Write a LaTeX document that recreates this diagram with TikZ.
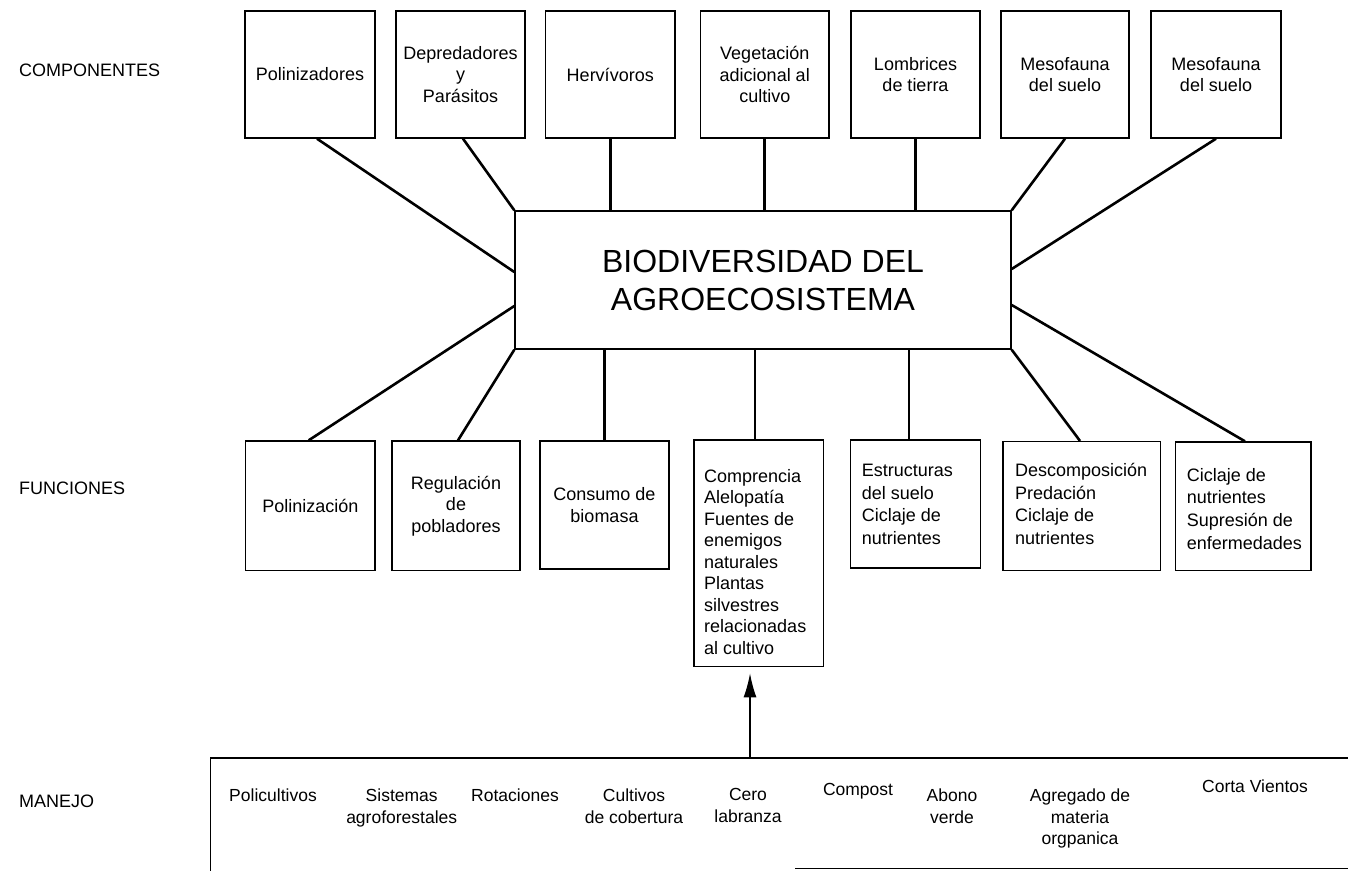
\documentclass[tikz,border=0pt]{standalone}
\usepackage{fontspec}
\setmainfont{Liberation Sans}
\usetikzlibrary{arrows.meta}
\newcommand{\fsBox}{\fontsize{18}{21.5}\selectfont}
\newcommand{\fsMan}{\fontsize{17.5}{21.7}\selectfont}
\newcommand{\fsTitle}{\fontsize{32}{38}\selectfont}
\begin{document}
\begin{tikzpicture}[x=1pt,y=-1pt,
  box/.style={draw, line width=1.4pt, inner sep=0pt, align=center, font=\fsBox},
  txt/.style={inner sep=0pt, align=left, font=\fsBox, anchor=west},
  lab/.style={inner sep=0pt, font=\fsBox, anchor=west},
  man/.style={inner sep=0pt, align=center, font=\fsMan, anchor=north},
  link/.style={line width=2.6pt},
  frame/.style={line width=1.4pt}]
\useasboundingbox (0,0) rectangle (1348,871);

% left labels
\node[lab] (L1) at (19,70.5) {COMPONENTES};
\node[lab] (L2) at (19,488) {FUNCIONES};
\node[lab] (L3) at (19,801.7) {MANEJO};

% central box
\node[box, font=\fsTitle, minimum width=496pt, minimum height=138pt] (C) at (763,280)
  {BIODIVERSIDAD DEL\\AGROECOSISTEMA};

% top boxes
\node[box, minimum width=130pt, minimum height=127pt] (T1) at (310,74.5) {Polinizadores};
\node[box, minimum width=129pt, minimum height=127pt] (T2) at (460.5,74.5) {Depredadores\\y\\Parásitos};
\node[box, minimum width=129.5pt, minimum height=127pt] (T3) at (610.25,74.5) {Hervívoros};
\node[box, minimum width=128.5pt, minimum height=127pt] (T4) at (764.75,74.5) {Vegetación\\adicional al\\cultivo};
\node[box, minimum width=129pt, minimum height=127pt] (T5) at (915.5,74.5) {Lombrices\\de tierra};
\node[box, minimum width=128pt, minimum height=127pt] (T6) at (1065,74.5) {Mesofauna\\del suelo};
\node[box, minimum width=130pt, minimum height=127pt] (T7) at (1216,74.5) {Mesofauna\\del suelo};

% bottom boxes
\node[box, minimum width=129.4pt, minimum height=129.5pt] (B1) at (310.3,505.75) {Polinización};
\node[box, minimum width=128pt, minimum height=129.5pt] (B2) at (456,505.75) {Regulación\\de\\pobladores};
\node[box, minimum width=129pt, minimum height=128pt] (B3) at (604.5,505) {Consumo de\\biomasa};
\node[box, minimum width=129.6pt, minimum height=226.7pt] (B4) at (758.8,553.35) {};
\node[box, minimum width=130pt, minimum height=128pt] (B5) at (915.7,504) {};
\node[box, minimum width=157.7pt, minimum height=129pt] (B6) at (1081.85,506.2) {};
\node[box, minimum width=135.3pt, minimum height=128.7pt] (B7) at (1243.35,506.35) {};

\node[txt] (B4t) at (704,562) {Comprencia\\Alelopatía\\Fuentes de\\enemigos\\naturales\\Plantas\\silvestres\\relacionadas\\al cultivo};
\node[txt, font=\fontsize{18}{22.6}\selectfont] (B5t) at (861.7,504.4) {Estructuras\\del suelo\\Ciclaje de\\nutrientes};
\node[txt, font=\fontsize{18}{22.6}\selectfont] (B6t) at (1015,504) {Descomposición\\Predación\\Ciclaje de\\nutrientes};
\node[txt, font=\fontsize{18}{22.6}\selectfont] (B7t) at (1186.7,508.7) {Ciclaje de\\nutrientes\\Supresión de\\enfermedades};

% connectors top
\draw[link] ([xshift=7pt]T1.south) -- ([yshift=8pt]C.west);
\draw[link] ([xshift=2.5pt]T2.south) -- (C.north west);
\draw[link] (T3.south) -- (T3.south |- C.north);
\draw[link] (T4.south) -- (T4.south |- C.north);
\draw[link] (T5.south) -- (T5.south |- C.north);
\draw[link] (T6.south) -- (C.north east);
\draw[link] (T7.south) -- ([yshift=11pt]C.east);

% connectors bottom
\coordinate (B4c) at ([xshift=-4pt]B4.north);
\coordinate (B5c) at ([xshift=-6.7pt]B5.north);
\draw[link] ([xshift=-1.6pt]B1.north) -- ([yshift=-26pt]C.west);
\draw[link] ([xshift=2pt]B2.north) -- (C.south west);
\draw[link] (B3.north) -- (B3.north |- C.south);
\draw[link] (B4c) -- (B4c |- C.south);
\draw[link] (B5c) -- (B5c |- C.south);
\draw[link] ([xshift=-1.8pt]B6.north) -- (C.south east);
\draw[link] ([xshift=1.6pt]B7.north) -- ([yshift=-25pt]C.east);

% manejo frame
\coordinate (Mtl) at (210.7,758);
\coordinate (Mtr) at (1348,758);
\coordinate (Mbl) at (210.7,871);
\coordinate (Mbm) at (795,868);
\coordinate (Mbr) at (1348,868);
\draw[frame] (Mtr) -- (Mtl) -- (Mbl);
\draw[line width=1pt] (Mbm) -- (Mbr);

% arrow
\coordinate (Ar) at ([xshift=-8.8pt]B4.south);
\draw[line width=1.3pt, -{Latex[length=24pt,width=13pt]}, shorten >=6pt] (Ar |- Mtl) -- (Ar);

% manejo items
\node[man] (M1) at (273,788.5) {Policultivos};
\node[man] (M2) at (401.7,788.5) {Sistemas\\agroforestales};
\node[man] (M3) at (515,788.5) {Rotaciones};
\node[man] (M4) at (634,788.5) {Cultivos\\de cobertura};
\node[man] (M5) at (748,788.5) {Cero\\labranza};
\node[man] (M6) at (858,783) {Compost};
\node[man] (M7) at (952,788.5) {Abono\\verde};
\node[man] (M8) at (1080,788.5) {Agregado de\\materia\\orgpanica};
\node[man] (M9) at (1255,780) {Corta Vientos};
\end{tikzpicture}
\end{document}
